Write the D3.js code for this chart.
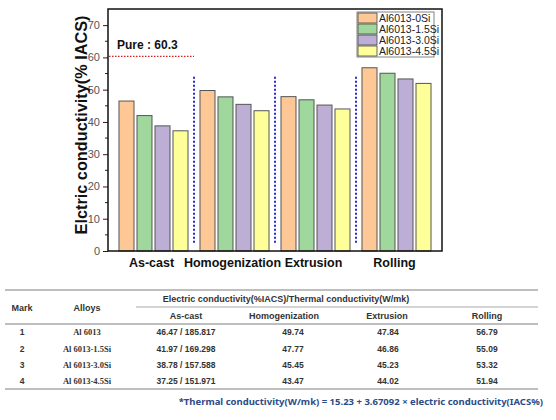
<!DOCTYPE html>
<html><head><meta charset="utf-8">
<script src="https://cdn.jsdelivr.net/npm/d3@7"></script>
<style>body{margin:0;background:#fff}svg{display:block}</style>
</head><body>
<svg id="c" width="556" height="420"></svg>
<script>
const categories = ["As-cast", "Homogenization", "Extrusion", "Rolling"];
const seriesNames = ["Al6013-0Si", "Al6013-1.5Si", "Al6013-3.0Si", "Al6013-4.5Si"];
const tableAlloys = ["Al 6013", "Al 6013-1.5Si", "Al 6013-3.0Si", "Al 6013-4.5Si"];
const asCast = [46.47, 41.97, 38.78, 37.25];
const asCastThermal = ["185.817", "169.298", "157.588", "151.971"];
const homogenization = [49.74, 47.77, 45.45, 43.47];
const extrusion = [47.84, 46.86, 45.23, 44.02];
const rolling = [56.79, 55.09, 53.32, 51.94];
const pureValue = 60.3;
const yTicks = [0, 10, 20, 30, 40, 50, 60, 70];
const colors = ["#fdc895", "#9fd79c", "#bdaed6", "#ffff99"];

const svg = d3.select("#c");
const L = 108, R = 442, T = 9, B = 251;
const y = d3.scaleLinear().domain([0, 75]).range([B, T]);
const x0 = d3.scaleBand().domain(categories).range([113, 437]).padding(0);
const x1 = d3.scaleBand().domain(seriesNames).range([0, x0.bandwidth()]).paddingInner(0.1667).paddingOuter(0.333);

const values = [asCast, homogenization, extrusion, rolling];

// bars
categories.forEach((c, ci) => {
  svg.append("g").selectAll("rect").data(seriesNames).join("rect")
    .attr("x", (s) => x0(c) + x1(s))
    .attr("y", (s, si) => y(values[ci][si]))
    .attr("width", x1.bandwidth())
    .attr("height", (s, si) => B - y(values[ci][si]))
    .attr("fill", (s, si) => colors[si])
    .attr("stroke", "#555").attr("stroke-width", 1);
});

// dividers
categories.slice(1).forEach(c => {
  svg.append("line")
    .attr("x1", x0(c)).attr("x2", x0(c))
    .attr("y1", y(54)).attr("y2", y(2))
    .attr("stroke", "#2a2ad0").attr("stroke-width", 2).attr("stroke-dasharray", "2,2");
});

// pure line
svg.append("line").attr("x1", L + 1).attr("x2", x0(categories[1]))
  .attr("y1", y(pureValue)).attr("y2", y(pureValue))
  .attr("stroke", "#d42020").attr("stroke-width", 1.2).attr("stroke-dasharray", "1.5,1.5");
svg.append("text").attr("x", 117).attr("y", y(pureValue) - 7)
  .attr("font-family", "Liberation Sans, Arial, sans-serif").attr("font-weight", "bold")
  .attr("font-size", 12).attr("fill", "#111").text("Pure : " + pureValue);

// y axis
const yAxis = d3.axisLeft(y).tickValues(yTicks).tickSize(5).tickPadding(3);
const gy = svg.append("g").attr("transform", `translate(${L},0)`).call(yAxis);
gy.select(".domain").remove();
gy.selectAll("line").attr("stroke", "#222");
gy.selectAll("text").attr("font-family", "Liberation Sans, Arial, sans-serif").attr("font-size", 11).attr("fill", "#555");
const minor = d3.range(5, 75, 10);
svg.append("g").selectAll("line").data(minor).join("line")
  .attr("x1", L - 3).attr("x2", L).attr("y1", d => y(d)).attr("y2", d => y(d)).attr("stroke", "#222");

// frame
svg.append("rect").attr("x", L).attr("y", T).attr("width", R - L).attr("height", B - T)
  .attr("fill", "none").attr("stroke", "#111").attr("stroke-width", 1.5);

// x labels
svg.append("g").selectAll("text").data(categories).join("text")
  .attr("x", d => x0(d) + x0.bandwidth() / 2 - 2).attr("y", 267)
  .attr("text-anchor", "middle").attr("font-family", "Liberation Sans, Arial, sans-serif")
  .attr("font-weight", "bold").attr("font-size", 12.5).attr("fill", "#111").text(d => d);

// y label
svg.append("text").attr("transform", `translate(87,125) rotate(-90)`)
  .attr("text-anchor", "middle").attr("font-family", "Liberation Sans, Arial, sans-serif")
  .attr("font-weight", "bold").attr("font-size", 16.3).attr("fill", "#111")
  .text("Elctric conductivity(% IACS)");

// legend
const lg = svg.append("g").attr("transform", "translate(357,12)");
lg.append("rect").attr("x", 0).attr("y", 0).attr("width", 77).attr("height", 45)
  .attr("fill", "#fff").attr("stroke", "#666").attr("stroke-width", 0.8);
seriesNames.forEach((s, i) => {
  lg.append("rect").attr("x", 1).attr("y", 1 + i * 11).attr("width", 19).attr("height", 10)
    .attr("fill", colors[i]).attr("stroke", "#444").attr("stroke-width", 0.8);
  lg.append("text").attr("x", 22).attr("y", 9.5 + i * 11)
    .attr("font-family", "Liberation Sans Narrow, Liberation Sans, Arial, sans-serif")
    .attr("font-size", 10.5).attr("fill", "#222").text(s);
});

// table
const tf = "Liberation Sans, Arial, sans-serif";
const line = (x1, x2, yy, w) => svg.append("line").attr("x1", x1).attr("x2", x2).attr("y1", yy).attr("y2", yy)
  .attr("stroke", "#a8a8a8").attr("stroke-width", w);
line(5, 538, 290, 1.5);
line(136, 538, 307, 1);
line(5, 538, 324, 1.5);
line(5, 538, 389, 1.5);
const txt = (xx, yy, t, opts = {}) => svg.append("text").attr("x", xx).attr("y", yy)
  .attr("text-anchor", "middle").attr("font-family", opts.ff || tf)
  .attr("font-weight", opts.fw || "bold").attr("font-size", opts.fs || 9)
  .attr("fill", opts.fill || "#333").text(t);
txt(286, 302, "Electric conductivity(%IACS)/Thermal conductivity(W/mk)");
txt(22, 311, "Mark");
txt(87, 311, "Alloys");
const colX = [186, 284, 387, 487];
const dataX = [186, 293, 388, 487];
categories.forEach((c, i) => txt(colX[i], 319, c));
const rowY = [335, 352, 368, 384];
tableAlloys.forEach((a, r) => {
  txt(22, rowY[r], String(r + 1), { fs: 8.5 });
  txt(87, rowY[r], a, { ff: "Liberation Serif, Times New Roman, serif", fs: 8.5, fw: "bold" });
  txt(dataX[0], rowY[r], asCast[r].toFixed(2) + " / " + asCastThermal[r], { fs: 8.5 });
  txt(dataX[1], rowY[r], homogenization[r].toFixed(2), { fs: 8.5 });
  txt(dataX[2], rowY[r], extrusion[r].toFixed(2), { fs: 8.5 });
  txt(dataX[3], rowY[r], rolling[r].toFixed(2), { fs: 8.5 });
});
svg.append("text").attr("x", 543).attr("y", 405).attr("text-anchor", "end")
  .attr("font-family", "Noto Sans, sans-serif").attr("font-size", 9.5).attr("font-weight", "bold")
  .attr("fill", "#2d4b88").text("*Thermal conductivity(W/mk) = 15.23 + 3.67092 \u00d7 electric conductivity(IACS%)");
</script>
</body></html>
